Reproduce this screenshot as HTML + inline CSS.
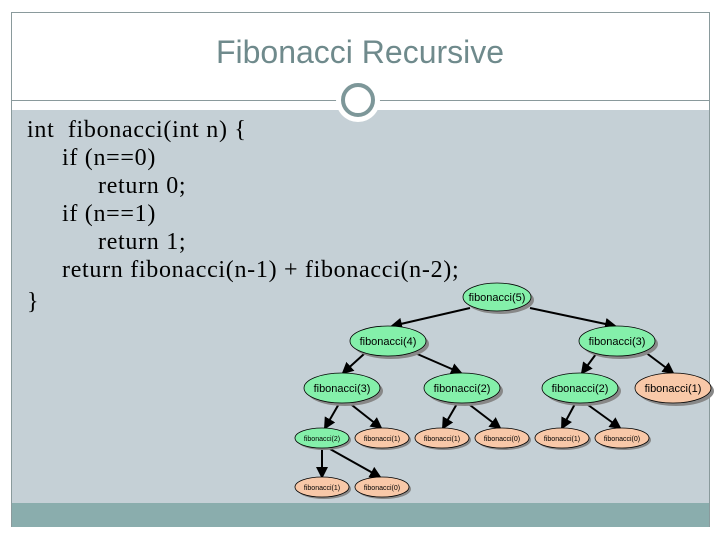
<!DOCTYPE html>
<html><head><style>
body{margin:0;width:720px;height:540px;background:#fff;position:relative;overflow:hidden;font-family:"Liberation Serif",serif}
.t{position:absolute;left:0;width:720px;top:34px;text-align:center;font-family:"Liberation Sans",sans-serif;font-size:32px;color:#6f8a8c}
.c{position:absolute;font-size:24px;letter-spacing:0.7px;color:#000;white-space:pre;line-height:28px}
</style></head><body>
<svg width="720" height="540" style="position:absolute;left:0;top:0">
<rect x="11.5" y="12.5" width="698" height="514" fill="#fff" stroke="#8a9a9c"/>
<rect x="12" y="110" width="697" height="393" fill="#c5d0d6"/>
<rect x="12" y="503" width="697" height="24" fill="#8aadad"/>
<line x1="12" y1="100.5" x2="709" y2="100.5" stroke="#8a9a9c"/>
<circle cx="358" cy="100" r="22" fill="#fff"/>
<circle cx="358" cy="100" r="15" fill="none" stroke="#7d9799" stroke-width="4"/>
<defs><marker id="a" markerWidth="6" markerHeight="6" refX="5" refY="3" orient="auto"><path d="M0,0L6,3L0,6z" fill="#000"/></marker></defs>
<g stroke="#000" stroke-width="2" marker-end="url(#a)">
<line x1="470" y1="308" x2="392" y2="326"/>
<line x1="530" y1="308" x2="615" y2="326"/>
<line x1="364" y1="354" x2="343" y2="373"/>
<line x1="415" y1="353" x2="461" y2="373"/>
<line x1="596" y1="354" x2="582" y2="373"/>
<line x1="645" y1="352" x2="673" y2="373"/>
<line x1="340" y1="402" x2="325" y2="428"/>
<line x1="348" y1="402" x2="381" y2="428"/>
<line x1="458" y1="402" x2="443" y2="428"/>
<line x1="466" y1="402" x2="500" y2="428"/>
<line x1="576" y1="402" x2="562" y2="428"/>
<line x1="584" y1="402" x2="620" y2="428"/>
<line x1="322" y1="449" x2="322" y2="477"/>
<line x1="330" y1="449" x2="380" y2="477"/>
</g>
<g font-family="Liberation Sans,sans-serif" text-anchor="middle" stroke="#000" stroke-width="0.8">
<g font-size="11">
<ellipse cx="500" cy="300" rx="34" ry="14" fill="#888" stroke="none"/><ellipse cx="497" cy="297" rx="34" ry="14" fill="#84f0aa"/>
<ellipse cx="391" cy="344" rx="38" ry="15" fill="#888" stroke="none"/><ellipse cx="388" cy="341" rx="38" ry="15" fill="#84f0aa"/>
<ellipse cx="620" cy="344" rx="38" ry="15" fill="#888" stroke="none"/><ellipse cx="617" cy="341" rx="38" ry="15" fill="#84f0aa"/>
<ellipse cx="345" cy="391" rx="38" ry="15" fill="#888" stroke="none"/><ellipse cx="342" cy="388" rx="38" ry="15" fill="#84f0aa"/>
<ellipse cx="465" cy="391" rx="38" ry="15" fill="#888" stroke="none"/><ellipse cx="462" cy="388" rx="38" ry="15" fill="#84f0aa"/>
<ellipse cx="583" cy="391" rx="38" ry="15" fill="#888" stroke="none"/><ellipse cx="580" cy="388" rx="38" ry="15" fill="#84f0aa"/>
<ellipse cx="676" cy="391" rx="38" ry="15" fill="#888" stroke="none"/><ellipse cx="673" cy="388" rx="38" ry="15" fill="#f8c8a8"/>
<g stroke="none" fill="#000">
<text x="497" y="301">fibonacci(5)</text><text x="388" y="345">fibonacci(4)</text><text x="617" y="345">fibonacci(3)</text>
<text x="342" y="392">fibonacci(3)</text><text x="462" y="392">fibonacci(2)</text><text x="580" y="392">fibonacci(2)</text><text x="673" y="392">fibonacci(1)</text>
</g></g>
<g font-size="7">
<ellipse cx="324" cy="440" rx="27" ry="10" fill="#888" stroke="none"/><ellipse cx="322" cy="438" rx="27" ry="10" fill="#84f0aa"/>
<ellipse cx="384" cy="440" rx="27" ry="10" fill="#888" stroke="none"/><ellipse cx="382" cy="438" rx="27" ry="10" fill="#f8c8a8"/>
<ellipse cx="444" cy="440" rx="27" ry="10" fill="#888" stroke="none"/><ellipse cx="442" cy="438" rx="27" ry="10" fill="#f8c8a8"/>
<ellipse cx="504" cy="440" rx="27" ry="10" fill="#888" stroke="none"/><ellipse cx="502" cy="438" rx="27" ry="10" fill="#f8c8a8"/>
<ellipse cx="564" cy="440" rx="27" ry="10" fill="#888" stroke="none"/><ellipse cx="562" cy="438" rx="27" ry="10" fill="#f8c8a8"/>
<ellipse cx="624" cy="440" rx="27" ry="10" fill="#888" stroke="none"/><ellipse cx="622" cy="438" rx="27" ry="10" fill="#f8c8a8"/>
<ellipse cx="324" cy="489" rx="27" ry="10" fill="#888" stroke="none"/><ellipse cx="322" cy="487" rx="27" ry="10" fill="#f8c8a8"/>
<ellipse cx="384" cy="489" rx="27" ry="10" fill="#888" stroke="none"/><ellipse cx="382" cy="487" rx="27" ry="10" fill="#f8c8a8"/>
<g stroke="none" fill="#000">
<text x="322" y="441">fibonacci(2)</text><text x="382" y="441">fibonacci(1)</text><text x="442" y="441">fibonacci(1)</text><text x="502" y="441">fibonacci(0)</text><text x="562" y="441">fibonacci(1)</text><text x="622" y="441">fibonacci(0)</text>
<text x="322" y="490">fibonacci(1)</text><text x="382" y="490">fibonacci(0)</text>
</g></g></g>
</svg>
<div class="t">Fibonacci Recursive</div>
<div class="c" style="left:27px;top:116px">int  fibonacci(int n) {</div>
<div class="c" style="left:62px;top:144px">if (n==0)</div>
<div class="c" style="left:98px;top:172px">return 0;</div>
<div class="c" style="left:62px;top:200px">if (n==1)</div>
<div class="c" style="left:98px;top:228px">return 1;</div>
<div class="c" style="left:62px;top:256px">return fibonacci(n-1) + fibonacci(n-2);</div>
<div class="c" style="left:27px;top:288px">}</div>
</body></html>
